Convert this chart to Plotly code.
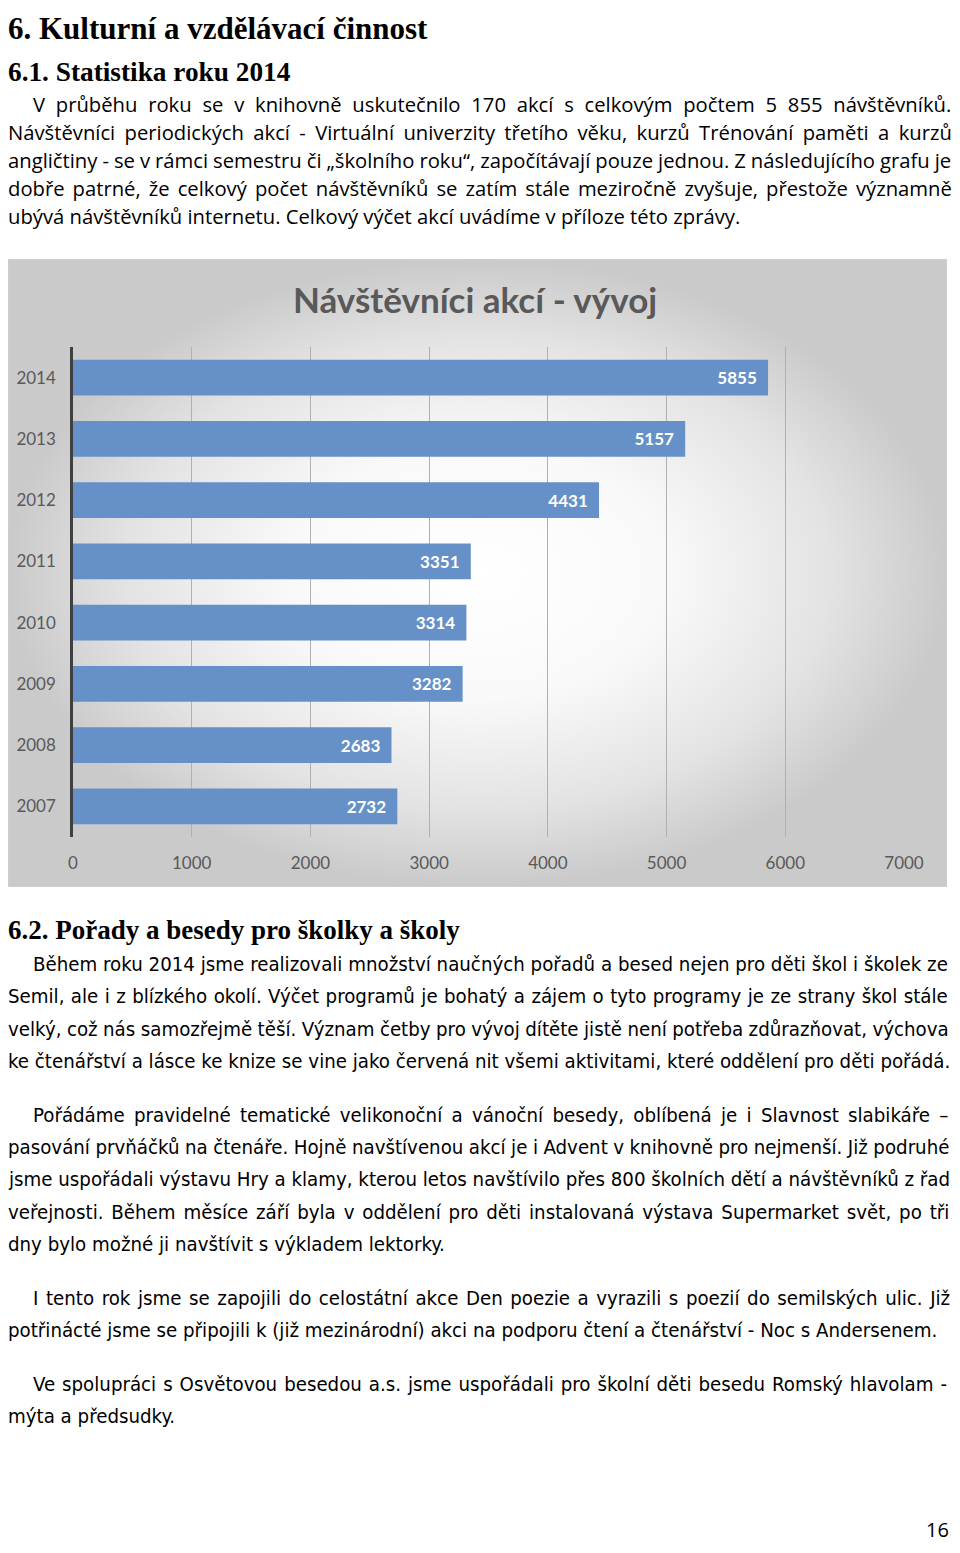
import glob
import os
import struct

import plotly.graph_objects as go

# ---------------- data ----------------
years = ["2007", "2008", "2009", "2010", "2011", "2012", "2013", "2014"]
visitors = [2732, 2683, 3282, 3314, 3351, 4431, 5157, 5855]
x_ticks = [0, 1000, 2000, 3000, 4000, 5000, 6000, 7000]
chart_title = "Návštěvníci akcí - vývoj"

heading1 = "6. Kulturní a vzdělávací činnost"
heading2 = "6.1. Statistika roku 2014"
para1 = [
    "V průběhu roku se v knihovně uskutečnilo 170 akcí s celkovým počtem 5 855 návštěvníků.",
    "Návštěvníci periodických akcí - Virtuální univerzity třetího věku, kurzů Trénování paměti a kurzů",
    "angličtiny - se v rámci semestru či „školního roku“, započítávají pouze jednou. Z následujícího grafu je",
    "dobře patrné, že celkový počet návštěvníků se zatím stále meziročně zvyšuje, přestože významně",
    "ubývá návštěvníků internetu. Celkový výčet akcí uvádíme v příloze této zprávy.",
]
heading3 = "6.2. Pořady a besedy pro školky a školy"
para2 = [
    "Během roku 2014 jsme realizovali množství naučných pořadů a besed nejen pro děti škol i školek ze",
    "Semil, ale i z blízkého okolí. Výčet programů je bohatý a zájem o tyto programy je ze strany škol stále",
    "velký, což nás samozřejmě těší. Význam četby pro vývoj dítěte jistě není potřeba zdůrazňovat, výchova",
    "ke čtenářství a lásce ke knize se vine jako červená nit všemi aktivitami, které oddělení pro děti pořádá.",
]
para3 = [
    "Pořádáme pravidelné tematické velikonoční a vánoční besedy, oblíbená je i Slavnost slabikáře –",
    "pasování prvňáčků na čtenáře. Hojně navštívenou akcí je i Advent v knihovně pro nejmenší. Již podruhé",
    "jsme uspořádali výstavu Hry a klamy, kterou letos navštívilo přes 800 školních dětí a návštěvníků z řad",
    "veřejnosti. Během měsíce září byla v oddělení pro děti instalovaná výstava Supermarket svět, po tři",
    "dny bylo možné ji navštívit s výkladem lektorky.",
]
para4 = [
    "I tento rok jsme se zapojili do celostátní akce Den poezie a vyrazili s poezií do semilských ulic. Již",
    "potřinácté jsme se připojili k (již mezinárodní) akci na podporu čtení a čtenářství - Noc s Andersenem.",
]
para5 = [
    "Ve spolupráci s Osvětovou besedou a.s. jsme uspořádali pro školní děti besedu Romský hlavolam -",
    "mýta a předsudky.",
]
page_no = "16"

# ---------------- page geometry ----------------
# the page body adds an 8px margin, so the figure is 16px smaller than the window
OFF = 8
W, H = 960 - 2 * OFF, 1553 - 2 * OFF


def px(x):
    return (x - OFF) / W


def py(y):
    return 1 - (y - OFF) / H


# ---------------- simple font metrics (for justified text) ----------------
def _font_files():
    out = []
    for d in ["/usr/share/fonts", "/usr/local/share/fonts",
              os.path.expanduser("~/.fonts"), os.path.expanduser("~/.local/share/fonts")]:
        for ext in ("ttf", "otf", "TTF"):
            out += glob.glob(os.path.join(d, "**", "*." + ext), recursive=True)
    return out


FONT_FILES = _font_files()


def find_font(patterns):
    for pat in patterns:
        pat = pat.lower()
        hits = sorted(f for f in FONT_FILES if os.path.basename(f).lower().startswith(pat))
        if hits:
            return hits[0]
    return None


class Metrics:
    def __init__(self, path):
        d = open(path, "rb").read()
        u16 = lambda o: struct.unpack(">H", d[o:o + 2])[0]
        s16 = lambda o: struct.unpack(">h", d[o:o + 2])[0]
        n = u16(4)
        tabs = {}
        for i in range(n):
            tag, _, off, ln = struct.unpack(">4sIII", d[12 + 16 * i:28 + 16 * i])
            tabs[tag.decode("latin1")] = off
        self.upem = u16(tabs["head"] + 18)
        nhm = u16(tabs["hhea"] + 34)
        hm = tabs["hmtx"]
        self.adv = [u16(hm + 4 * i) for i in range(nhm)]
        cm = tabs["cmap"]
        sub = None
        for i in range(u16(cm + 2)):
            pid, eid, off = struct.unpack(">HHI", d[cm + 4 + 8 * i:cm + 12 + 8 * i])
            if u16(cm + off) == 4 and (pid, eid) in ((3, 1), (0, 3), (0, 4), (0, 1)):
                sub = cm + off
                break
        self.cmap = {}
        segx2 = u16(sub + 6)
        ends = sub + 14
        starts = ends + segx2 + 2
        deltas = starts + segx2
        ros = deltas + segx2
        for s in range(segx2 // 2):
            e, st, dl, ro = u16(ends + 2 * s), u16(starts + 2 * s), s16(deltas + 2 * s), u16(ros + 2 * s)
            for c in range(st, e + 1):
                if c == 0xFFFF:
                    continue
                if ro == 0:
                    g = (c + dl) & 0xFFFF
                else:
                    g = u16(ros + 2 * s + ro + 2 * (c - st))
                    if g:
                        g = (g + dl) & 0xFFFF
                self.cmap[c] = g

    def width(self, text, size):
        tot = 0
        for ch in text:
            g = self.cmap.get(ord(ch), 0)
            tot += self.adv[min(g, len(self.adv) - 1)]
        return tot * size / self.upem


def load_metrics(patterns):
    try:
        f = find_font(patterns)
        return Metrics(f) if f else None
    except Exception:
        return None


body1 = "Open Sans"
body2 = "Liberation Sans Narrow, DejaVu Sans Condensed, Lato"
m1 = load_metrics(["OpenSans-Regular", "OpenSans["])
m2 = load_metrics(["LiberationSansNarrow-Regular", "DejaVuSansCondensed."])

LEFT, RIGHT = 8, 952          # text column in page pixels

# font sizes calibrated on lines that are not stretched in the original
size1 = 733.0 / m1.width(para1[4], 1) if m1 else 18.5
size2 = 946.0 / m2.width(para2[3], 1) if m2 else 20.0


def justify(txt, size, metrics, x0):
    """return text with word-spacing so the line ends at RIGHT"""
    if metrics is None:
        return txt
    nat = metrics.width(txt, size)
    gaps = txt.count(" ")
    if gaps == 0:
        return txt
    ws = (RIGHT - x0 - nat) / gaps
    return '<span style="word-spacing:%.2fpx">%s</span>' % (ws, txt)


fig = go.Figure()

# chart background panel (radial gradient)
fig.add_trace(go.Scatter(
    x=[0, 1, 1, 0, 0], y=[0, 0, 1, 1, 0], mode="lines", fill="toself",
    line=dict(width=1, color="#d2d2d2"),
    fillgradient=dict(type="radial",
                      colorscale=[[0, "#ffffff"], [0.4, "#f9f9f9"], [0.75, "#e3e3e3"], [1, "#cacaca"]]),
    hoverinfo="skip", showlegend=False, xaxis="x", yaxis="y"))

# bars
fig.add_trace(go.Bar(
    y=years, x=visitors, orientation="h", xaxis="x2", yaxis="y2",
    marker=dict(color="#6591c8", line=dict(width=0)), width=0.58,
    texttemplate="%{x}\u00a0\u00a0", textposition="inside", insidetextanchor="end",
    textfont=dict(family="Lato", size=17, color="white", weight="bold"),
    showlegend=False, hoverinfo="skip"))

fig.update_layout(
    width=W, height=H, autosize=False,
    margin=dict(l=0, r=0, t=0, b=0),
    paper_bgcolor="white", plot_bgcolor="rgba(0,0,0,0)",
    xaxis=dict(domain=[0, px(947)], range=[0, 1], visible=False, fixedrange=True),
    yaxis=dict(domain=[py(887), py(259)], range=[0, 1], visible=False, fixedrange=True),
    xaxis2=dict(domain=[px(73), px(904)], range=[0, 7000], tickvals=x_ticks,
                showgrid=True, gridcolor="#b0b0b0", gridwidth=1, zeroline=False,
                showline=False, ticks="", anchor="y2", ticklabelstandoff=14,
                automargin=False,
                tickfont=dict(family="Lato", size=17, color="#595959")),
    yaxis2=dict(domain=[py(837), py(347)], type="category", categoryorder="array",
                categoryarray=years, showline=True, linecolor="#404040", linewidth=2.5,
                showgrid=False, ticks="", anchor="x2", ticklabelstandoff=11,
                automargin=False,
                tickfont=dict(family="Lato", size=17, color="#595959")),
    showlegend=False,
)

ann = []


def add_text(txt, x, y, size, family, bold=False, color="black", anchor="left"):
    ann.append(dict(text=txt, x=px(x), y=py(y), xref="paper", yref="paper",
                    xanchor=anchor, yanchor="middle", showarrow=False, align=anchor,
                    borderpad=0, borderwidth=0,
                    font=dict(family=family, size=size, color=color,
                              weight="bold" if bold else "normal")))


serif = "Liberation Serif"
IND = 33

add_text(heading1, LEFT, 28, 31, serif, bold=True)
add_text(heading2, LEFT, 72, 27.3, serif, bold=True)
for i, (t, y) in enumerate(zip(para1, [104, 132, 160, 188, 216])):
    x0 = IND if i == 0 else LEFT
    add_text(justify(t, size1, m1, x0) if i < 4 else t, x0, y, size1, body1)

add_text(chart_title, 475, 299, 35, "Lato", bold=True, color="#595959", anchor="center")

add_text(heading3, LEFT, 930, 27, serif, bold=True)


def block(lines, ys):
    for i, (t, y) in enumerate(zip(lines, ys)):
        x0 = IND if i == 0 else LEFT
        last = i == len(lines) - 1
        add_text(t if last else justify(t, size2, m2, x0), x0, y, size2, body2)


block(para2, [964, 996, 1029, 1061])
block(para3, [1115, 1147, 1179, 1212, 1244])
block(para4, [1298, 1330])
block(para5, [1384, 1416])
add_text(page_no, 937, 1529, 20, body1, anchor="center")

fig.update_layout(annotations=ann)
fig.write_html("out.html")
